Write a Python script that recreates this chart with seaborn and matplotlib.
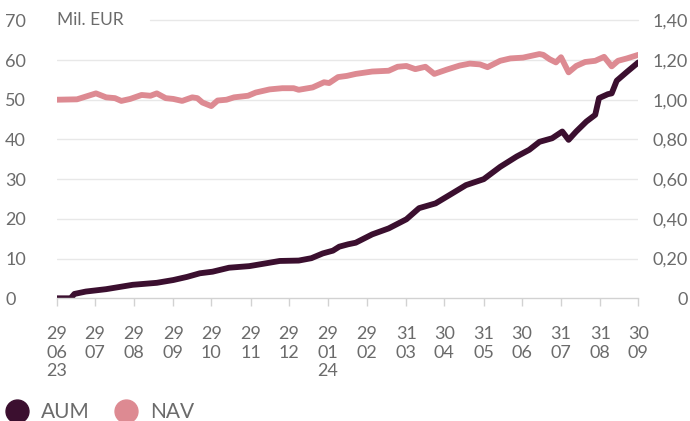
import matplotlib
matplotlib.use("Agg")
import matplotlib.pyplot as plt
from matplotlib.lines import Line2D
import seaborn as sns
import pandas as pd

# ---------------- data ----------------
aum_dates = ["2023-06-29", "2023-07-10", "2023-07-13", "2023-07-22", "2023-08-07", "2023-08-28",
             "2023-09-16", "2023-09-29", "2023-10-10", "2023-10-20", "2023-10-30", "2023-11-12",
             "2023-11-28", "2023-12-11", "2023-12-22", "2024-01-06", "2024-01-16", "2024-01-25",
             "2024-02-02", "2024-02-07", "2024-02-14", "2024-02-20", "2024-03-04", "2024-03-17",
             "2024-03-31", "2024-04-10", "2024-04-23", "2024-05-04", "2024-05-17", "2024-05-31",
             "2024-06-13", "2024-06-26", "2024-07-06", "2024-07-14", "2024-07-24", "2024-08-01",
             "2024-08-06", "2024-08-12", "2024-08-20", "2024-08-27", "2024-08-30", "2024-09-06",
             "2024-09-09", "2024-09-13", "2024-09-21", "2024-09-30"]
aum_values = [0.0, 0.0, 1.1, 1.7, 2.3, 3.4,
              3.9, 4.6, 5.4, 6.3, 6.7, 7.7,
              8.1, 8.8, 9.4, 9.5, 10.1, 11.3,
              12.0, 13.0, 13.6, 14.0, 16.1, 17.6,
              19.9, 22.7, 23.9, 26.0, 28.5, 30.0,
              33.1, 35.7, 37.4, 39.4, 40.3, 42.0,
              39.9, 42.0, 44.5, 46.2, 50.4, 51.4,
              51.6, 54.8, 57.0, 59.4]

nav_dates = ["2023-06-29", "2023-07-15", "2023-07-30", "2023-08-07", "2023-08-14", "2023-08-19",
             "2023-08-26", "2023-09-04", "2023-09-11", "2023-09-16", "2023-09-23", "2023-09-29",
             "2023-10-06", "2023-10-14", "2023-10-18", "2023-10-22", "2023-10-29", "2023-11-03",
             "2023-11-10", "2023-11-16", "2023-11-27", "2023-12-03", "2023-12-14", "2023-12-24",
             "2024-01-02", "2024-01-06", "2024-01-17", "2024-01-26", "2024-01-30", "2024-02-06",
             "2024-02-13", "2024-02-20", "2024-03-04", "2024-03-17", "2024-03-24", "2024-03-31",
             "2024-04-07", "2024-04-15", "2024-04-22", "2024-05-02", "2024-05-12", "2024-05-20",
             "2024-05-28", "2024-06-03", "2024-06-13", "2024-06-21", "2024-07-01", "2024-07-14",
             "2024-07-17", "2024-07-22", "2024-07-27", "2024-07-31", "2024-08-06", "2024-08-12",
             "2024-08-19", "2024-08-27", "2024-09-03", "2024-09-09", "2024-09-14", "2024-09-21",
             "2024-09-30"]
nav_values = [1.000, 1.002, 1.032, 1.012, 1.008, 0.994,
              1.004, 1.024, 1.020, 1.032, 1.008, 1.004,
              0.994, 1.012, 1.008, 0.986, 0.968, 0.996,
              1.000, 1.012, 1.020, 1.036, 1.052, 1.058,
              1.058, 1.050, 1.062, 1.088, 1.084, 1.114,
              1.120, 1.130, 1.142, 1.146, 1.166, 1.170,
              1.154, 1.166, 1.130, 1.152, 1.172, 1.182,
              1.178, 1.164, 1.196, 1.208, 1.212, 1.230,
              1.226, 1.204, 1.188, 1.214, 1.138, 1.170,
              1.190, 1.196, 1.216, 1.168, 1.196, 1.208,
              1.226]

tick_dates = ["2023-06-29", "2023-07-29", "2023-08-29", "2023-09-29", "2023-10-29", "2023-11-29",
              "2023-12-29", "2024-01-29", "2024-02-29", "2024-03-31", "2024-04-30", "2024-05-31",
              "2024-06-30", "2024-07-31", "2024-08-31", "2024-09-30"]
tick_labels = ["29\n06\n23", "29\n07", "29\n08", "29\n09", "29\n10", "29\n11", "29\n12",
               "29\n01\n24", "29\n02", "31\n03", "30\n04", "31\n05", "30\n06", "31\n07",
               "31\n08", "30\n09"]

left_ticks = [0, 10, 20, 30, 40, 50, 60, 70]
right_ticks = [0, 0.2, 0.4, 0.6, 0.8, 1.0, 1.2, 1.4]
right_labels = ["0", "0,20", "0,40", "0,60", "0,80", "1,00", "1,20", "1,40"]

unit_label = "Mil. EUR"
series_names = ["AUM", "NAV"]

# ---------------- style ----------------
AUM_COLOR = "#3b0f2f"
NAV_COLOR = "#dd8a92"
TEXT_COLOR = "#6b6b6b"
GRID_COLOR = "#e8e8e8"
AXIS_COLOR = "#d2d2d2"

sns.set_theme(style="white")
plt.rcParams["font.family"] = ["Lato", "DejaVu Sans"]

aum_df = pd.DataFrame({"date": pd.to_datetime(aum_dates), "value": aum_values})
nav_df = pd.DataFrame({"date": pd.to_datetime(nav_dates), "value": nav_values})

fig = plt.figure(figsize=(6.9, 4.21), dpi=100)
left, right, bottom, top = 56.7 / 690, 638.3 / 690, 1 - 298.3 / 421, 1 - 20.3 / 421
ax = fig.add_axes([left, bottom, right - left, top - bottom])
ax2 = ax.twinx()

lw = 4.2
sns.lineplot(data=nav_df, x="date", y="value", ax=ax2, color=NAV_COLOR, linewidth=lw,
             solid_capstyle="round", solid_joinstyle="round")
sns.lineplot(data=aum_df, x="date", y="value", ax=ax, color=AUM_COLOR, linewidth=lw,
             solid_capstyle="round", solid_joinstyle="round")

ax.set_zorder(ax2.get_zorder() + 1)
ax.patch.set_visible(False)

xmin, xmax = pd.Timestamp(tick_dates[0]), pd.Timestamp(tick_dates[-1])
ax.set_xlim(xmin, xmax)
ax.set_ylim(0, 70)
ax2.set_ylim(0, 1.4)

# grid lines
for v in left_ticks[1:-1]:
    ax2.axhline(v / 50, color=GRID_COLOR, linewidth=1, zorder=0)
ax2.axhline(1.4, xmin=(150 - 56.7) / 581.6, xmax=1, color=GRID_COLOR, linewidth=1, zorder=0, clip_on=False)

for a in (ax, ax2):
    for s in a.spines.values():
        s.set_visible(False)
ax.spines["bottom"].set_visible(True)
ax.spines["bottom"].set_color(AXIS_COLOR)
ax.spines["bottom"].set_linewidth(1)

# x ticks
ax.set_xticks(pd.to_datetime(tick_dates))
ax.set_xticklabels(tick_labels, fontsize=13, color=TEXT_COLOR, linespacing=1.2)
ax.tick_params(axis="x", length=6, width=1, color=AXIS_COLOR, pad=14, bottom=True)
ax.set_xlabel("")

# left y ticks (left aligned)
ax.set_yticks(left_ticks)
ax.set_yticklabels([str(v) for v in left_ticks], fontsize=13, color=TEXT_COLOR)
ax.tick_params(axis="y", length=0, pad=37.2)
for t in ax.get_yticklabels():
    t.set_horizontalalignment("left")
ax.set_ylabel("")

# right y ticks (right aligned)
ax2.set_yticks(right_ticks)
ax2.set_yticklabels(right_labels, fontsize=13, color=TEXT_COLOR)
ax2.tick_params(axis="y", length=0, pad=35.8)
for t in ax2.get_yticklabels():
    t.set_horizontalalignment("right")
ax2.set_ylabel("")
ax2.grid(False)
ax.grid(False)

# unit label
fig.text(57 / 690, 1 - 20.3 / 421, unit_label, fontsize=12.5, color=TEXT_COLOR,
         ha="left", va="center")

# legend
handles = [Line2D([], [], linestyle="none", marker="o", markersize=16.5, color=AUM_COLOR),
           Line2D([], [], linestyle="none", marker="o", markersize=16.5, color=NAV_COLOR)]
leg = fig.legend(handles, series_names, loc="center left", bbox_to_anchor=(5.5 / 690, 1 - 412.5 / 421),
                 ncol=2, frameon=False, fontsize=15, handletextpad=0.59, columnspacing=1.2,
                 handlelength=1.1, borderaxespad=0, borderpad=0)
for t in leg.get_texts():
    t.set_color(TEXT_COLOR)

fig.savefig("out.png", dpi=100)
